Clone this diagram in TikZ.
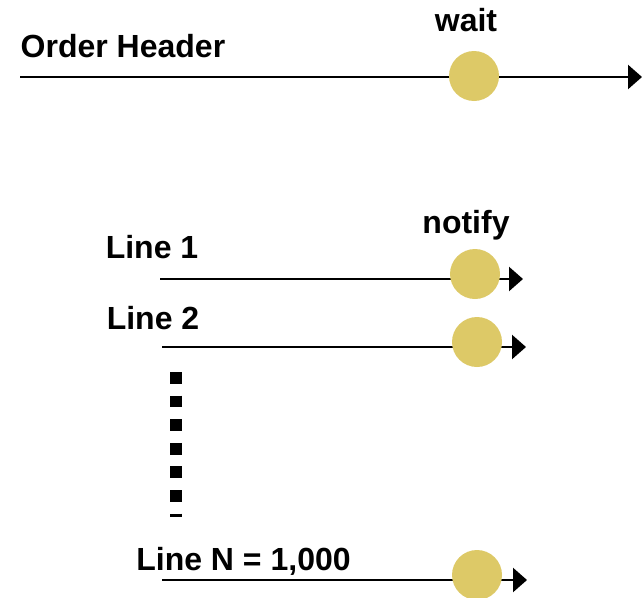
\documentclass[tikz,border=0pt]{standalone}
\usepackage{fontspec}
\setmainfont{Liberation Sans}
\usetikzlibrary{arrows.meta}
\definecolor{dotfill}{RGB}{221,201,103}
\tikzset{
  lbl/.style={font=\fontsize{32}{37}\selectfont\bfseries, inner sep=0pt, anchor=base},
  flow/.style={line width=2.4pt, -{Triangle[length=14pt,width=24pt]}},
  evt/.style={circle, fill=dotfill, minimum size=50pt, inner sep=0pt},
  ellip/.style={line width=12pt, dash pattern=on 11.8pt off 11.8pt}
}
\begin{document}
\begin{tikzpicture}[x=1pt,y=-1pt]
\useasboundingbox (0,0) rectangle (642,597);
% Order header
\coordinate (h0) at (20,77);
\coordinate (h1) at (642,77);
\draw[flow] (h0) -- (h1);
\node[evt] (hw) at (474,76) {};
\node[lbl] (ht) at (123,57) {Order Header};
\node[lbl] (wt) at (466,31) {wait};
% Line 1
\coordinate (a0) at (160,279);
\coordinate (a1) at (523,279);
\draw[flow] (a0) -- (a1);
\node[evt] (an) at (475,274) {};
\node[lbl] (at1) at (152,258) {Line 1};
\node[lbl] (nt) at (466,233) {notify};
% Line 2
\coordinate (b0) at (162,347);
\coordinate (b1) at (526,347);
\draw[flow] (b0) -- (b1);
\node[evt] (bn) at (477,342) {};
\node[lbl] (bt) at (153,329) {Line 2};
% ellipsis
\coordinate (d0) at (176,372);
\coordinate (d1) at (176,517);
\draw[ellip] (d0) -- (d1);
% Line N
\coordinate (c0) at (162,580);
\coordinate (c1) at (527,580);
\draw[flow] (c0) -- (c1);
\node[evt] (cn) at (477,575) {};
\node[lbl] (ct) at (243.5,570) {Line N = 1,000};
\end{tikzpicture}
\end{document}
